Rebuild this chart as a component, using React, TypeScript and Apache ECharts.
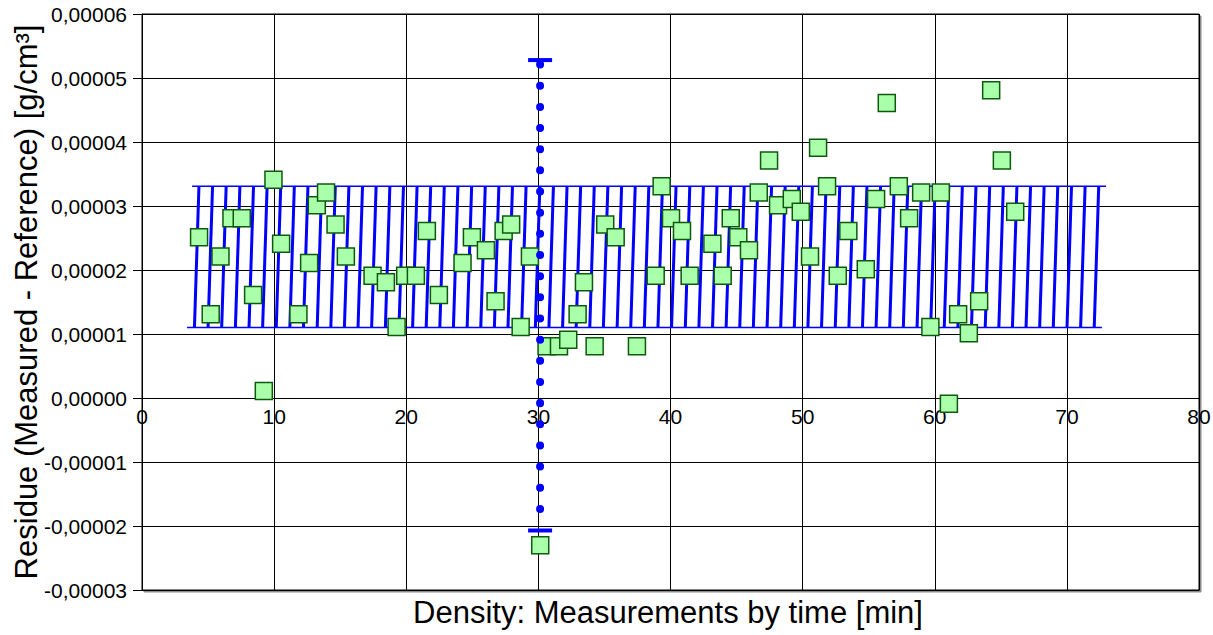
import React, { useEffect, useRef } from "react";
import * as echarts from "echarts";

// Measured residues (x = time in min, y = residue in g/cm³)
const TIME_MIN = [
  4.32, 5.2, 5.94, 6.77, 7.55, 8.41, 9.22, 9.95, 10.53, 11.84, 12.65, 13.23, 13.93, 14.65, 15.43,
  17.45, 18.46, 19.27, 19.92, 20.73, 21.56, 22.47, 24.26, 24.97, 26.03, 26.76, 27.37, 27.94, 28.66,
  29.36, 30.14, 30.62, 31.56, 32.26, 32.97, 33.45, 34.26, 35.06, 35.85, 37.46, 38.88, 39.33, 40.04,
  40.87, 41.45, 43.17, 43.95, 44.56, 45.13, 45.94, 46.68, 47.46, 48.14, 49.18, 49.86, 50.56, 51.17,
  51.85, 52.66, 53.46, 54.78, 55.56, 56.37, 57.28, 58.06, 58.97, 59.67, 60.46, 61.07, 61.77, 62.58,
  63.36, 64.27, 65.08, 66.09,
];
const RESIDUE = [
  2.51e-5, 1.31e-5, 2.21e-5, 2.81e-5, 2.81e-5, 1.61e-5, 0.11e-5, 3.41e-5, 2.41e-5, 1.31e-5, 2.11e-5,
  3.01e-5, 3.21e-5, 2.71e-5, 2.21e-5, 1.91e-5, 1.81e-5, 1.11e-5, 1.91e-5, 1.91e-5, 2.61e-5, 1.61e-5,
  2.11e-5, 2.51e-5, 2.31e-5, 1.51e-5, 2.61e-5, 2.71e-5, 1.11e-5, 2.21e-5, -2.3e-5, 0.81e-5, 0.81e-5,
  0.91e-5, 1.31e-5, 1.81e-5, 0.81e-5, 2.71e-5, 2.51e-5, 0.81e-5, 1.91e-5, 3.31e-5, 2.81e-5, 2.61e-5,
  1.91e-5, 2.41e-5, 1.91e-5, 2.81e-5, 2.51e-5, 2.31e-5, 3.21e-5, 3.71e-5, 3.01e-5, 3.11e-5, 2.91e-5,
  2.21e-5, 3.91e-5, 3.31e-5, 1.91e-5, 2.61e-5, 2.01e-5, 3.11e-5, 4.61e-5, 3.31e-5, 2.81e-5, 3.21e-5,
  1.11e-5, 3.21e-5, -0.09e-5, 1.31e-5, 1.01e-5, 1.51e-5, 4.81e-5, 3.71e-5, 2.91e-5,
];

// Tolerance band (hatched)
const BAND_HIGH = 3.31e-5;
const BAND_LOW = 1.1e-5;
const BAND_HIGH_RANGE = [3.79, 72.96];
const BAND_LOW_RANGE = [3.41, 72.65];
const HATCH_SLANT = 0.34;
const HATCH_X = [
  3.97, 5.0, 6.03, 7.07, 8.1, 9.13, 10.16, 11.19, 12.22, 13.26, 14.29, 15.32, 16.35, 17.38, 18.42,
  19.45, 20.48, 21.51, 22.54, 23.57, 24.61, 25.64, 26.67, 27.7, 28.73, 29.77, 30.8, 31.83, 32.86,
  33.89, 34.92, 35.96, 36.99, 38.02, 39.05, 40.08, 41.12, 42.15, 43.18, 44.21, 45.24, 46.27, 47.31,
  48.34, 49.37, 50.4, 51.43, 52.47, 53.5, 54.53, 55.56, 56.59, 57.62, 58.66, 59.69, 60.72, 61.75,
  62.78, 63.82, 64.85, 65.88, 66.91, 67.94, 68.97, 70.01, 71.04, 72.07,
];

// Spread bar at x = 30
const SPREAD_X = 30.13;
const SPREAD_DOTS = [5.21e-5, -2.05e-5];
const SPREAD_CAPS = [5.28e-5, -2.07e-5];

const X_MIN = 0, X_MAX = 80, X_STEP = 10;
const Y_MIN = -0.00003, Y_MAX = 0.00006, Y_STEP = 0.00001;

const X_TITLE = "Density: Measurements by time [min]";
const Y_TITLE = "Residue (Measured - Reference) [g/cm³]";

const FONT = "Liberation Sans, Arial, sans-serif";

export default function App() {
  const ref = useRef<HTMLDivElement>(null);
  useEffect(() => {
    if (!ref.current) return;
    const chart = echarts.init(ref.current, undefined, { renderer: "svg" });
    const pts = TIME_MIN.map((t, i) => [t, RESIDUE[i]]);
    chart.setOption({
      animation: false,
      backgroundColor: "#ffffff",
      grid: {
        left: 142,
        right: 14,
        top: 14,
        bottom: 45,
        show: true,
        backgroundColor: "#ffffff",
        borderColor: "#000",
        borderWidth: 1,
        shadowColor: "rgba(0,0,0,0.45)",
        shadowOffsetX: 2,
        shadowOffsetY: 2,
        shadowBlur: 0,
        containLabel: false,
        outerBoundsMode: "none",
      },
      xAxis: {
        type: "value",
        min: X_MIN,
        max: X_MAX,
        interval: X_STEP,
        position: "bottom",
        axisLine: { onZero: false, lineStyle: { color: "#000", width: 1 } },
        axisTick: { show: false },
        axisLabel: { color: "#000", fontSize: 21, fontFamily: FONT, margin: -184 },
        splitLine: { show: true, lineStyle: { color: "#000", width: 1 } },
      },
      yAxis: {
        type: "value",
        min: Y_MIN,
        max: Y_MAX,
        interval: Y_STEP,
        axisLine: { show: true, onZero: false, lineStyle: { color: "#000", width: 1 } },
        axisTick: { show: true, length: 9, lineStyle: { color: "#000" } },
        axisLabel: {
          color: "#000",
          fontSize: 21,
          fontFamily: FONT,
          margin: 15,
          formatter: (v: number) => v.toFixed(5).replace(".", ","),
        },
        splitLine: { show: true, lineStyle: { color: "#000", width: 1 } },
        name: Y_TITLE,
        nameLocation: "middle",
        nameGap: 100,
        nameMoveOverlap: false,
        nameTextStyle: { color: "#000", fontSize: 31, fontFamily: FONT },
      },
      graphic: [
        {
          type: "text",
          x: 668,
          y: 612,
          style: {
            text: X_TITLE,
            fill: "#000",
            font: `31px ${FONT}`,
            textAlign: "center",
            textVerticalAlign: "middle",
          },
        },
      ],
      series: [
        {
          type: "custom",
          z: 2,
          data: HATCH_X.map((x) => [x, BAND_LOW]),
          encode: { x: 0, y: 1 },
          renderItem: (params: any, api: any) => {
            const x = api.value(0);
            const p1 = api.coord([x, BAND_LOW]);
            const p2 = api.coord([x + HATCH_SLANT, BAND_HIGH]);
            return {
              type: "line",
              shape: { x1: p1[0], y1: p1[1], x2: p2[0], y2: p2[1] },
              style: { stroke: "#0000ff", lineWidth: 3 },
            };
          },
        },
        {
          type: "line",
          z: 2,
          symbol: "none",
          data: BAND_HIGH_RANGE.map((x) => [x, BAND_HIGH]),
          lineStyle: { color: "#0000ff", width: 1.5 },
        },
        {
          type: "line",
          z: 2,
          symbol: "none",
          data: BAND_LOW_RANGE.map((x) => [x, BAND_LOW]),
          lineStyle: { color: "#0000ff", width: 1.5 },
        },
        {
          type: "scatter",
          z: 3,
          symbol: "rect",
          symbolSize: 17,
          data: pts,
          itemStyle: { color: "#aaffaa", borderColor: "#0d5a0d", borderWidth: 1.5, opacity: 1 },
        },
        {
          type: "line",
          z: 4,
          symbol: "none",
          data: SPREAD_DOTS.map((y) => [SPREAD_X, y]),
          lineStyle: { color: "#0000ff", width: 8, type: [0.01, 21.15], cap: "round" },
        },
        {
          type: "scatter",
          z: 4,
          symbol: "rect",
          symbolSize: [24, 4],
          data: SPREAD_CAPS.map((y) => [SPREAD_X, y]),
          itemStyle: { color: "#0000ff", opacity: 1 },
        },
      ],
    });
    return () => chart.dispose();
  }, []);
  return (
    <div
      ref={ref}
      style={{ position: "fixed", left: 0, top: 0, width: 1213, height: 635, background: "#fff" }}
    />
  );
}
